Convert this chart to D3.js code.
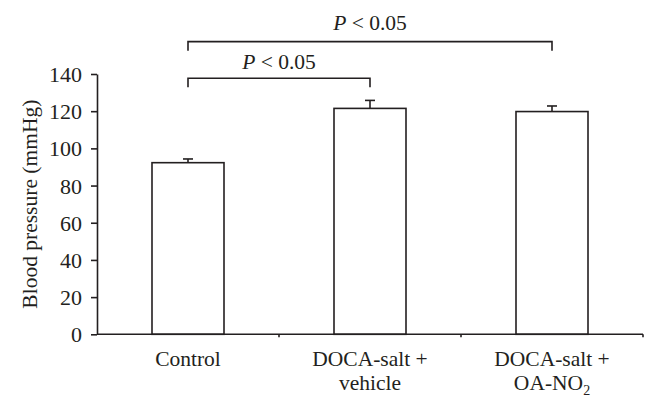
<!DOCTYPE html>
<html><head><meta charset="utf-8">
<script src="https://cdn.jsdelivr.net/npm/d3@7"></script>
<style>body{margin:0;background:#fff}svg{display:block}text{font-family:"Liberation Serif","DejaVu Serif",serif;fill:#231f20}</style>
</head><body><svg id="c" width="658" height="407"></svg>
<script>
const categories = ["Control", "DOCA-salt + vehicle", "DOCA-salt + OA-NO2"];
const labelLines = [["Control"], ["DOCA-salt +", "vehicle"], ["DOCA-salt +", "OA-NO"]];
const means = [92.3, 121.5, 119.8];
const errors = [2.0, 4.3, 3.0];
const yTicks = [0, 20, 40, 60, 80, 100, 120, 140];
const brackets = [
  {from: 0, to: 1, level: 137.7, label: "P < 0.05"},
  {from: 0, to: 2, level: 157.4, label: "P < 0.05"}
];

const ink = "#231f20";
const svg = d3.select("#c");
const x = d3.scaleBand().domain(categories).range([97, 643]).paddingInner(0).paddingOuter(0);
const y = d3.scaleLinear().domain([0, 140]).range([334.3, 74]);
const bw = 72;
const cx = c => x(c) + x.bandwidth() / 2;
const fs = "21.5px";

// Y axis
const ya = svg.append("g").attr("transform", "translate(97,0)")
  .call(d3.axisLeft(y).tickValues(yTicks).tickSize(6).tickPadding(9).tickSizeOuter(0));
ya.select(".domain").attr("stroke", ink).attr("stroke-width", 1.6);
ya.selectAll(".tick line").attr("stroke", ink).attr("stroke-width", 1.6);
ya.selectAll(".tick text").style("font-size", "22px").attr("fill", ink).attr("dy", "0.34em");

// bars
svg.selectAll("rect.bar").data(categories).enter().append("rect")
  .attr("x", d => cx(d) - bw / 2).attr("width", bw)
  .attr("y", (d, i) => y(means[i])).attr("height", (d, i) => y(0) - y(means[i]))
  .attr("fill", "#fff").attr("stroke", ink).attr("stroke-width", 1.6);

// error bars
categories.forEach((c, i) => {
  const g = svg.append("g").attr("stroke", ink).attr("stroke-width", 1.6);
  g.append("line").attr("x1", cx(c)).attr("x2", cx(c)).attr("y1", y(means[i])).attr("y2", y(means[i] + errors[i]));
  g.append("line").attr("x1", cx(c) - 5).attr("x2", cx(c) + 5).attr("y1", y(means[i] + errors[i])).attr("y2", y(means[i] + errors[i]));
});

// X axis with small ticks at category boundaries
const xa = svg.append("g");
xa.append("line").attr("x1", 97).attr("x2", 643).attr("y1", y(0)).attr("y2", y(0)).attr("stroke", ink).attr("stroke-width", 1.6);
categories.forEach((c, i) => {
  const bx = x(c) + x.bandwidth();
  xa.append("line").attr("x1", bx).attr("x2", bx).attr("y1", y(0)).attr("y2", y(0) + 3).attr("stroke", ink).attr("stroke-width", 1.6);
});
labelLines.forEach((lines, i) => {
  const t = svg.append("text").attr("x", cx(categories[i])).attr("y", 366).attr("text-anchor", "middle").style("font-size", fs);
  lines.forEach((l, j) => {
    t.append("tspan").attr("x", cx(categories[i])).attr("dy", j === 0 ? 0 : 24).text(l);
  });
  if (i === 2) {
    t.append("tspan").attr("dy", 5).style("font-size", "14px").text("2");
  }
});

// y label
svg.append("text").attr("transform", `translate(37,${(y(0) + y(140)) / 2}) rotate(-90)`)
  .attr("text-anchor", "middle").style("font-size", fs).text("Blood pressure (mmHg)");

// significance brackets
brackets.forEach((b, k) => {
  const x1 = cx(categories[b.from]), x2 = cx(categories[b.to]), yy = y(b.level);
  svg.append("path").attr("d", `M${x1},${yy + 9}V${yy}H${x2}V${yy + 9}`)
    .attr("fill", "none").attr("stroke", ink).attr("stroke-width", 1.6);
  const t = svg.append("text").attr("x", (x1 + x2) / 2).attr("y", yy - (k === 0 ? 9 : 12)).attr("text-anchor", "middle").style("font-size", fs);
  t.append("tspan").style("font-style", "italic").text("P");
  t.append("tspan").text(" < 0.05");
});
</script></body></html>
